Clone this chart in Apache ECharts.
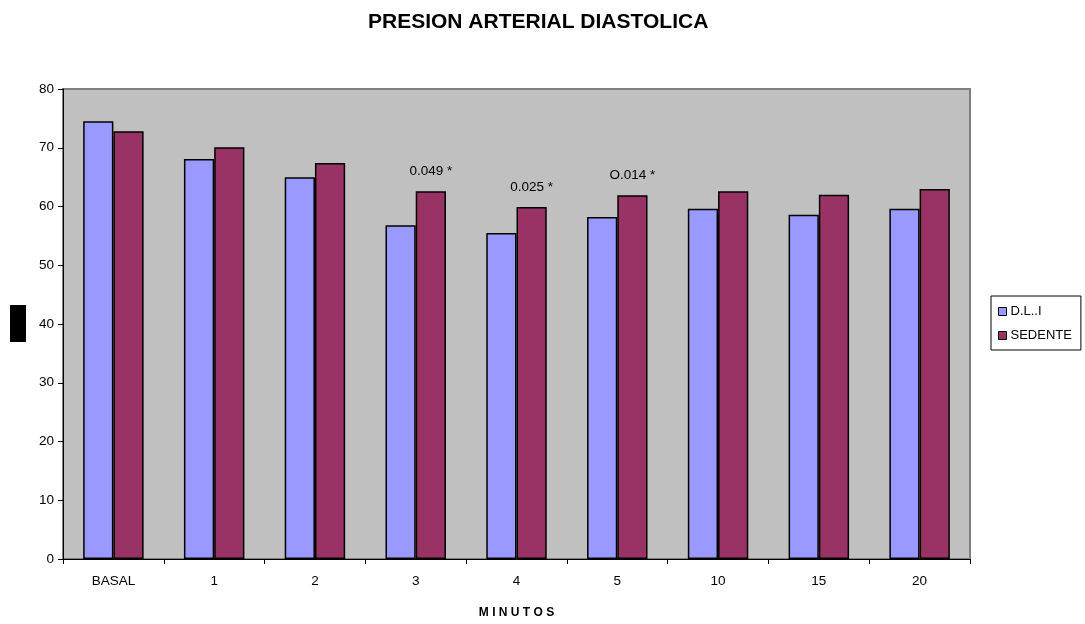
<!DOCTYPE html>
<html><head><meta charset="utf-8">
<script src="https://cdn.jsdelivr.net/npm/echarts@6/dist/echarts.min.js"></script>
<style>html,body{margin:0;padding:0;background:#fff}#c{width:1085px;height:624px}</style>
</head><body><div id="c"></div>
<script>
const categories = ['BASAL','1','2','3','4','5','10','15','20'];
const dliValues = [74.5, 68.1, 65.0, 56.8, 55.5, 58.2, 59.6, 58.6, 59.6];
const sedenteValues = [72.8, 70.1, 67.4, 62.6, 59.9, 61.9, 62.6, 62.0, 63.0];
const sedenteNotes = ['', '', '', '0.049 *', '0.025 *', 'O.014 *', '', '', ''];
const yTicks = [0,10,20,30,40,50,60,70,80];

const chart = echarts.init(document.getElementById('c'));
const F = 'Liberation Sans, Arial, sans-serif';
chart.setOption({
  animation: false,
  title: { text: 'PRESION ARTERIAL DIASTOLICA', left: 363, top: 7,
    textStyle: { fontFamily: F, fontSize: 21, fontWeight: 'bold', color: '#000' } },
  grid: { left: 63, right: 115, top: 89, bottom: 65, outerBoundsMode: 'none', show: true, backgroundColor: '#C0C0C0', borderColor: '#808080', borderWidth: 2 },
  legend: { orient: 'vertical', left: 991, top: 296, padding: [9, 9, 8, 7], itemGap: 11, itemWidth: 8, itemHeight: 8,
    borderColor: '#000', borderWidth: 1, icon: 'rect',
    itemStyle: { borderColor: '#000', borderWidth: 1 },
    textStyle: { fontFamily: F, fontSize: 13, color: '#000', padding: [0,0,0,-1] },
    data: ['D.L..I', 'SEDENTE'] },
  graphic: [{ type: 'rect', shape: { x: 10, y: 305, width: 16, height: 37 }, style: { fill: '#000' } }],
  xAxis: { type: 'category', data: categories,
    name: 'M I N U T O S', nameLocation: 'middle', nameGap: 48,
    nameTextStyle: { fontFamily: F, fontSize: 12, fontWeight: 'bold', color: '#000' },
    axisLine: { lineStyle: { color: '#000', width: 1 } },
    axisTick: { show: true, alignWithLabel: false, length: 5, lineStyle: { color: '#000' } },
    axisLabel: { fontFamily: F, fontSize: 13.5, color: '#000', margin: 15 } },
  yAxis: { type: 'value', min: 0, max: 80, interval: 10,
    axisLine: { show: true, lineStyle: { color: '#000', width: 1 } },
    axisTick: { show: true, length: 5, lineStyle: { color: '#000' } },
    splitLine: { show: false },
    axisLabel: { fontFamily: F, fontSize: 13.5, color: '#000', margin: 9,
      formatter: v => yTicks.includes(v) ? String(v) : '' } },
  series: [
    { name: 'D.L..I', type: 'bar', data: dliValues, barGap: '0%', barCategoryGap: '40%',
      itemStyle: { color: '#9999FF', borderColor: '#000', borderWidth: 1.5 } },
    { name: 'SEDENTE', type: 'bar', data: sedenteValues, barGap: '0%', barCategoryGap: '40%',
      itemStyle: { color: '#993366', borderColor: '#000', borderWidth: 1.5 },
      label: { show: true, position: 'top', distance: 13, fontFamily: F, fontSize: 13.5, color: '#000',
        formatter: p => sedenteNotes[p.dataIndex] } }
  ]
});
</script></body></html>
